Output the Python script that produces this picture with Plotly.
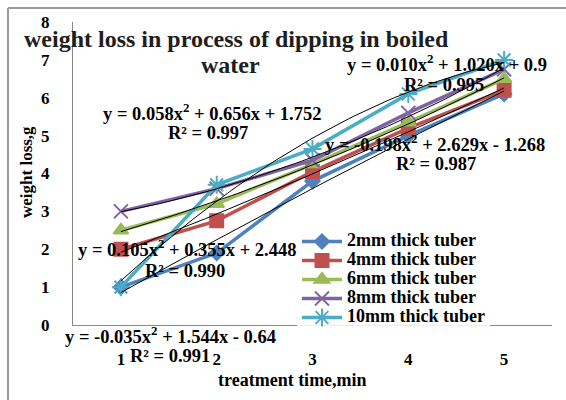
import numpy as np
import plotly.graph_objects as go

# ---- data ----
times = [1, 2, 3, 4, 5]
tick_labels = ["1", "2", "3", "4", "5"]
series_names = ["2mm thick tuber", "4mm thick tuber", "6mm thick tuber",
                "8mm thick tuber", "10mm thick tuber"]
loss_2mm = [1.0, 1.9, 3.8, 5.0, 6.1]
loss_4mm = [2.0, 2.75, 4.05, 5.2, 6.2]
loss_6mm = [2.5, 3.2, 4.25, 5.35, 6.5]
loss_8mm = [3.0, 3.6, 4.35, 5.6, 6.75]
loss_10mm = [1.0, 3.7, 4.65, 6.1, 7.0]
equations = [
    ("y = -0.035x<sup>2</sup> + 1.544x - 0.64", "R² = 0.991"),
    ("y = 0.010x<sup>2</sup> + 1.020x + 0.9", "R² = 0.995"),
    ("y = 0.058x<sup>2</sup> + 0.656x + 1.752", "R² = 0.997"),
    ("y = 0.105x<sup>2</sup> + 0.355x + 2.448", "R² = 0.990"),
    ("y = -0.198x<sup>2</sup> + 2.629x - 1.268", "R² = 0.987"),
]

colors = ["#4F81BD", "#C0504D", "#9BBB59", "#8064A2", "#4BACC6"]
symbols = ["diamond", "square", "triangle-up", "x-thin-open", "asterisk-open"]
msizes = [11, 13, 13, 14, 15]
FONT = "Liberation Serif"

W, H = 566, 400
L, R, T, B = 73, 14, 22, 75
pw, ph = W - L - R, H - T - B


def px(xp):
    return (xp - L) / pw


def py(yp):
    return (H - B - yp) / ph


fig = go.Figure()
all_series = [loss_2mm, loss_4mm, loss_6mm, loss_8mm, loss_10mm]
for name, vals, c, s, ms in zip(series_names, all_series, colors, symbols, msizes):
    fig.add_trace(go.Scatter(
        x=times, y=vals,
        name="<span style='font-size:18px'><b>" + name + "</b></span>",
        mode="lines+markers",
        line=dict(color=c, width=3.5),
        marker=dict(symbol=s, size=ms, color=c, line=dict(color=c, width=2)),
    ))

# polynomial (order 2) trendlines fitted to the data
xs = np.linspace(times[0], times[-1], 60)
for vals in all_series:
    coef = np.polyfit(times, vals, 2)
    fig.add_trace(go.Scatter(
        x=xs, y=np.polyval(coef, xs), mode="lines", showlegend=False,
        line=dict(color="black", width=1), hoverinfo="skip",
    ))


def ann(text, xp, yp, size=18.5, color="black"):
    return dict(x=px(xp), y=py(yp), xref="paper", yref="paper",
                xanchor="center", yanchor="middle",
                text="<b>" + text + "</b>", showarrow=False,
                font=dict(family=FONT, size=size, color=color))


# equation labels (pixel positions)
eq_pos = [
    (170, 335, 170, 356),
    (447, 63, 444, 85),
    (212, 112, 208, 133),
    (187, 248, 185, 271),
    (435, 143, 436, 164),
]
anns = []
for (eq, r2), (x1, y1, x2, y2) in zip(equations, eq_pos):
    anns.append(ann(eq, x1, y1))
    anns.append(ann(r2, x2, y2))

# title
anns.append(ann("weight loss in process of dipping in boiled", 236, 39, 24, "#1e1e1e"))
anns.append(ann("water", 230, 65, 24, "#1e1e1e"))
# axis titles
anns.append(ann("treatment time,min", 292, 380, 18))
a = ann("weight loss,g", 26, 172, 17)
a["textangle"] = -90
anns.append(a)

shapes = [
    dict(type="line", xref="paper", yref="paper", x0=px(8), x1=px(8), y0=py(8), y1=py(410),
         line=dict(color="#9a9a9a", width=2)),
    dict(type="line", xref="paper", yref="paper", x0=px(8), x1=px(600), y0=py(8), y1=py(8),
         line=dict(color="#9a9a9a", width=2)),
]

fig.update_layout(
    width=W, height=H,
    margin=dict(l=L, r=R, t=T, b=B),
    paper_bgcolor="white", plot_bgcolor="white",
    font=dict(family=FONT, color="black"),
    annotations=anns, shapes=shapes,
    legend=dict(x=px(297), y=py(227), xanchor="left", yanchor="top",
                bgcolor="rgba(255,255,255,0.85)",
                font=dict(family=FONT, size=12, color="black"),
                tracegroupgap=0, itemwidth=40),
    showlegend=True,
)
fig.update_xaxes(
    range=[0.5, 5.5], tickvals=times, ticktext=["<b>%s</b>" % t for t in tick_labels],
    showline=True, linecolor="#888888", linewidth=1, showgrid=False, zeroline=False,
    ticks="", tickfont=dict(family=FONT, size=17, color="black"), ticklabelstandoff=19,
)
fig.update_yaxes(
    range=[0, 8], tickvals=list(range(9)), ticktext=["<b>%d</b>" % v for v in range(9)],
    showline=True, linecolor="#888888", linewidth=1, showgrid=False, zeroline=False,
    ticks="", tickfont=dict(family=FONT, size=17, color="black"), ticklabelstandoff=19,
)

fig.write_html("out.html")
